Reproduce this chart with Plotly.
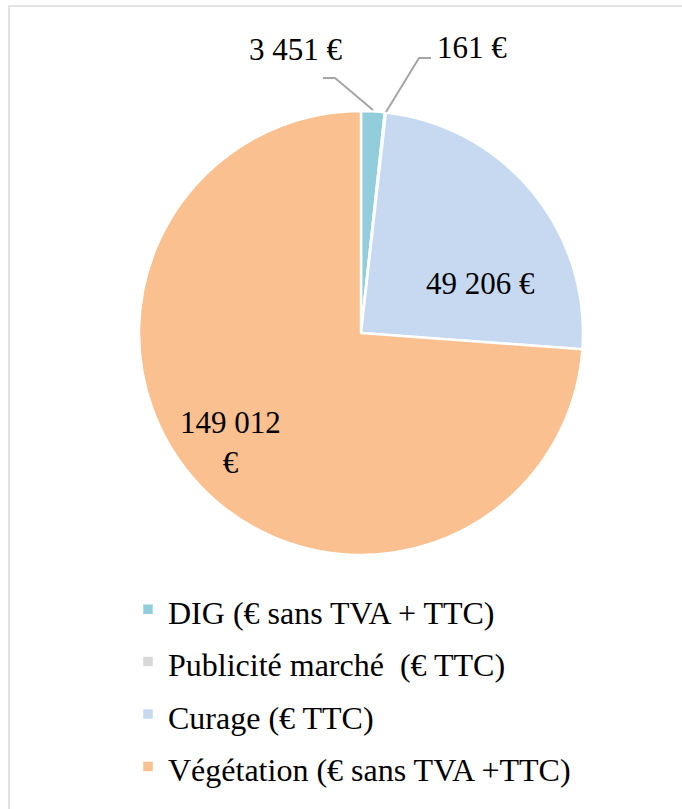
import plotly.graph_objects as go

W, H = 682, 809

categories = ["DIG (€ sans TVA + TTC)", "Publicité marché  (€ TTC)", "Curage (€ TTC)",
              "Végétation (€ sans TVA +TTC)"]
values = [3451, 161, 49206, 149012]
colors = ["#92CDDC", "#D9D9D9", "#C6D9F1", "#FAC090"]

FONT = "Liberation Serif"


def px(x):
    return x / W


def py(y):
    return 1 - y / H


def fmt(v):
    return f"{v:,}".replace(",", " ") + " €"


cx, cy, r = 361, 333, 222

fig = go.Figure(go.Pie(
    labels=[f'<span style="font-size:32px">{c}</span>' for c in categories],
    values=values,
    sort=False,
    direction="clockwise",
    rotation=0,
    marker=dict(colors=colors, line=dict(color="white", width=2.5)),
    textinfo="none",
    hovertext=categories,
    hoverinfo="text+value",
    domain=dict(x=[px(cx - r), px(cx + r)], y=[py(cy + r), py(cy - r)]),
))

# label positions (style), text from data
label_pos = [(296, 50, 1), (472, 48, 1), (480, 283, 1), (231, 442, 2)]
annotations = []
for i, (v, (x, y, lines)) in enumerate(zip(values, label_pos)):
    t = fmt(v)
    if lines == 2:
        t = t.replace(" €", "<br>€")
    annotations.append(dict(
        x=px(x), y=py(y), xref="paper", yref="paper", text=t, showarrow=False,
        xanchor="center", yanchor="middle",
        font=dict(family=FONT, size=31, color="black"),
    ))

shapes = [
    # chart border
    dict(type="rect", xref="paper", yref="paper", x0=px(9), y0=py(6), x1=1.05, y1=-0.05,
         line=dict(color="#D9D9D9", width=1.5), fillcolor="rgba(0,0,0,0)", layer="below"),
]
leaders = [
    [(323, 78), (335, 78), (373, 110)],
    [(431, 58), (419, 58), (386, 112)],
]
for pts in leaders:
    path = "M " + " L ".join(f"{px(x)},{py(y)}" for x, y in pts)
    shapes.append(dict(type="path", xref="paper", yref="paper", path=path,
                       line=dict(color="#A6A6A6", width=2)))

fig.update_layout(
    width=W, height=H,
    margin=dict(l=0, r=0, t=0, b=0),
    paper_bgcolor="white",
    plot_bgcolor="white",
    font=dict(family=FONT, color="black"),
    showlegend=True,
    legend=dict(
        x=px(128), y=py(578), xanchor="left", yanchor="top",
        font=dict(family=FONT, size=38, color="black"),
        bgcolor="rgba(0,0,0,0)",
        traceorder="normal",
    ),
    annotations=annotations,
    shapes=shapes,
)

fig.write_html("out.html", config={"displayModeBar": False},
               post_script="document.body.style.margin='0';")
